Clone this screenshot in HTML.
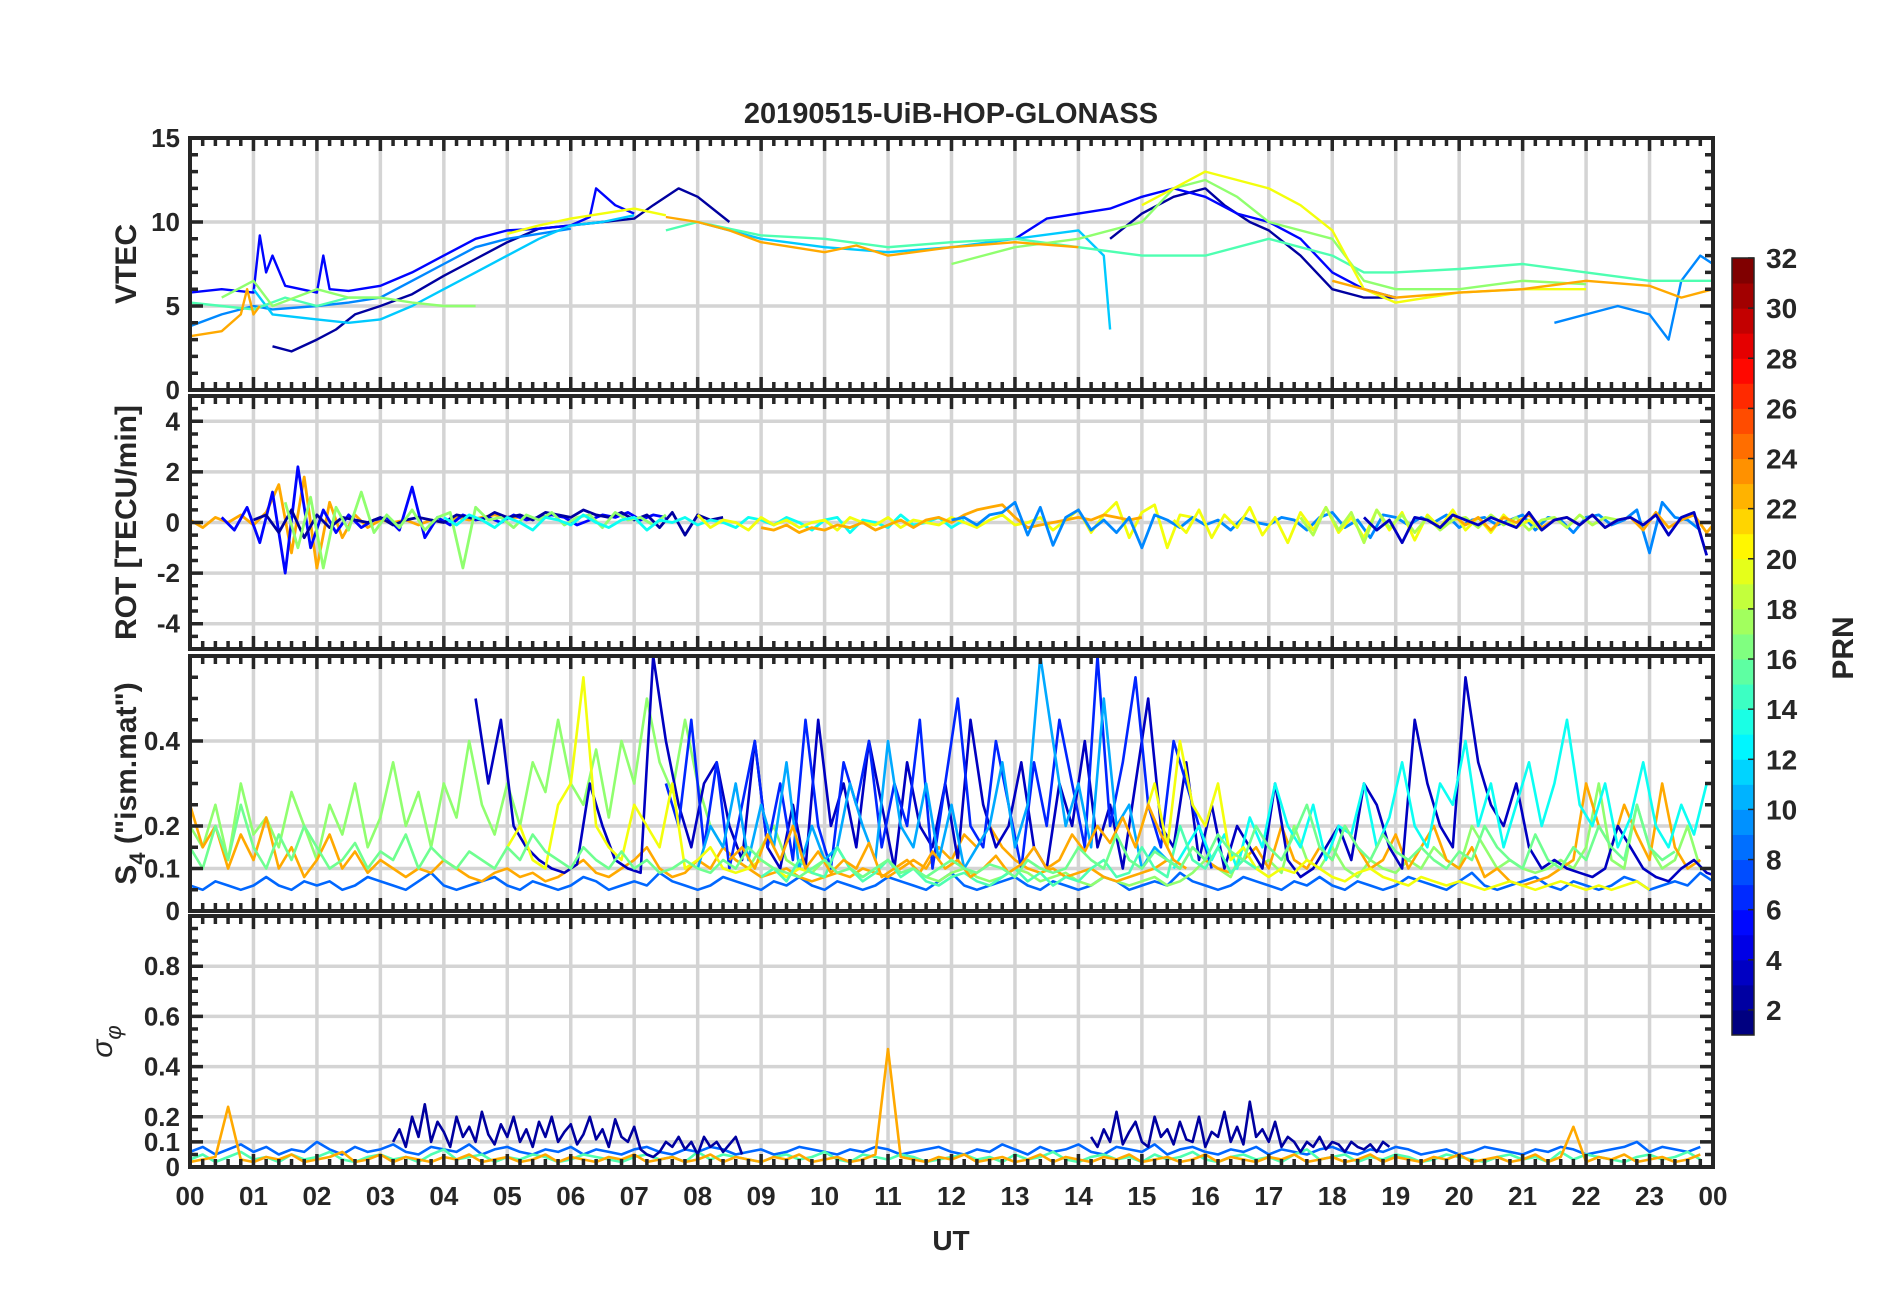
<!DOCTYPE html>
<html><head><meta charset="utf-8">
<style>
html,body{margin:0;padding:0;background:#fff;}
svg{display:block;font-family:"Liberation Sans",sans-serif;}
text{fill:#262626;font-weight:bold;}
</style></head>
<body>
<svg id="chart" width="1902" height="1292" viewBox="0 0 1902 1292">
<text x="951" y="123" font-size="29" text-anchor="middle">20190515-UiB-HOP-GLONASS</text>
<text x="951" y="1250" font-size="28" text-anchor="middle">UT</text>
<g id="panels"></g>
<g id="cbar"></g>
</svg>
<script>
// ---------------- data ----------------
const hourLabels = ["00","01","02","03","04","05","06","07","08","09","10","11","12","13","14","15","16","17","18","19","20","21","22","23","00"];
const vtecTicks = [0,5,10,15];
const rotTicks = [-4,-2,0,2,4];
const s4Ticks = [0,0.1,0.2,0.4];
const sigTicks = [0,0.1,0.2,0.4,0.6,0.8];
const cbarTicks = [2,4,6,8,10,12,14,16,18,20,22,24,26,28,30,32];

const vtecPrn = [2,2,5,5,9,9,11,11,15,15,17,17,20,20,23,23,23];
const vtecPts = [
 [[1.3,2.6],[1.6,2.3],[2,3],[2.3,3.6],[2.6,4.5],[3,5],[3.5,5.7],[4,6.8],[4.5,7.8],[5,8.8],[5.5,9.6],[6,9.8],[6.5,10],[7,10.2],[7.3,11],[7.7,12],[8,11.5],[8.5,10]],
 [[14.5,9],[15,10.5],[15.5,11.5],[16,12],[16.3,11],[16.7,10],[17,9.5],[17.5,8],[18,6],[18.5,5.5],[19,5.5]],
 [[0,5.8],[0.5,6],[1,5.8],[1.1,9.2],[1.2,7],[1.3,8],[1.5,6.2],[2,5.8],[2.1,8],[2.2,6],[2.5,5.9],[3,6.2],[3.5,7],[4,8],[4.5,9],[5,9.5],[5.5,9.6],[6,9.8],[6.3,10.3],[6.4,12],[6.7,11],[7,10.5]],
 [[13,9],[13.5,10.2],[14,10.5],[14.5,10.8],[15,11.5],[15.5,12],[16,11.5],[16.5,10.5],[17,10],[17.5,9],[18,7],[18.5,6],[19,5.5]],
 [[0,3.8],[0.5,4.5],[1,5],[1.3,4.8],[2,5],[2.5,5.2],[3,5.5],[3.5,6.5],[4,7.5],[4.5,8.5],[5,9],[5.5,9.3],[6,9.6]],
 [[21.5,4],[22,4.5],[22.5,5],[23,4.5],[23.3,3],[23.5,6.5],[23.8,8],[24,7.5]],
 [[1,6],[1.3,4.5],[2,4.2],[2.5,4],[3,4.2],[3.5,5],[4,6],[4.5,7],[5,8],[5.5,9],[6,9.8],[6.5,10],[7,10.4]],
 [[8,10],[9,9],[10,8.5],[11,8.2],[12,8.5],[13,9],[14,9.5],[14.4,8],[14.5,3.6]],
 [[0,5.2],[0.5,5],[1,4.8],[1.5,5.5],[2,5],[2.5,5.5],[3,5.5]],
 [[7.5,9.5],[8,10],[9,9.2],[10,9],[11,8.5],[12,8.8],[13,9],[14,8.5],[15,8],[16,8],[17,9],[18,8],[18.5,7],[19,7],[20,7.2],[21,7.5],[22,7],[23,6.5],[24,6.5]],
 [[0.5,5.5],[1,6.5],[1.3,5],[2,6],[2.5,5.5],[3,5.5],[3.5,5.2],[4,5],[4.5,5]],
 [[12,7.5],[12.5,8],[13,8.5],[14,9],[15,10],[15.5,12],[16,12.5],[16.5,11.5],[17,10],[18,9],[18.5,6.5],[19,6],[20,6],[21,6.5],[22,6.3]],
 [[5,9.3],[5.5,9.8],[6,10.2],[6.5,10.5],[7,10.8],[7.5,10.4]],
 [[15,11],[15.5,12],[16,13],[16.5,12.5],[17,12],[17.5,11],[18,9.5],[18.5,6],[19,5.2],[20,5.8],[21,6],[22,6]],
 [[0,3.2],[0.5,3.5],[0.8,4.5],[0.9,6],[1,4.5],[1.1,5]],
 [[7.5,10.3],[8,10],[8.5,9.5],[9,8.8],[10,8.2],[10.5,8.6],[11,8],[12,8.5],[13,8.8],[14,8.5]],
 [[18,6.5],[19,5.5],[20,5.8],[21,6],[22,6.5],[23,6.2],[23.5,5.5],[24,6]]
];

const rotPrn = [23,5,2,17,13,20,23,9];
const rotStart = [0,0.5,1,1.5,4,8,9,12];
const rotVals = [
 [0.1,-0.2,0.2,0,0.3,-0.1,0.4,1.5,-1.2,1.8,-1.8,0.8,-0.6,0.3,-0.2,0.1,0,0.1,-0.1,0.1,0,0.2,0.1,0.2,0.3,0.2,0.2],
 [0.2,-0.3,0.6,-0.8,1.2,-2,2.2,-1,0.5,-0.4,0.3,-0.2,0.1,0.2,-0.3,1.4,-0.6,0.2,-0.1,0.3,0.1,0.2,0,0.3,0.1,0.2,0.3,0.2,-0.1,0.1,0.3,0.2,0.4,0.1,0.3,0.2],
 [0.1,0.3,-0.4,0.5,-0.6,0.3,-0.2,0.2,0.1,0,0.2,-0.1,0.1,0.2,0.1,0,0.3,0.2,0.1,0.4,0.2,0.3,0.1,0.4,0.3,0.2,0.5,0.3,0.2,0.4,0.1,0.3,-0.2,0.4,-0.5,0.3,0.1,0.2],
 [0.8,-1,1,-1.8,0.6,-0.3,1.2,-0.4,0.3,-0.2,0.5,-0.3,0.2,0.4,-1.8,0.6,0.1,0.2,-0.2,0.3,0.1,0.4,-0.1,0.2,0.3,-0.2,0.4,0.1,0.2,-0.1,0.3],
 [0.2,-0.1,0.3,0.1,-0.2,0.2,0,-0.3,0.2,0.1,-0.1,0.3,0,-0.2,0.1,0.2,-0.3,0.1,0,0.2,-0.1,0.1,0,-0.2,0.2,0.1,-0.1,0.2,0,-0.3,0.1,0.2,-0.4,0.1,0,-0.2,0.3,-0.1,0,0.2,-0.2,0.1],
 [0.3,-0.2,0.1,0,-0.3,0.2,-0.1,0.1,-0.2,0,0.1,-0.3,0.2,0,-0.1,0.2,-0.2,0.1,0,-0.1,0.2,0,-0.2,0.1,0.3,-0.1,0,0.2,-0.3,0.1,0.5,-0.4,0.3,0.8,-0.6,0.4,0.7,-1,0.3,0.2],
 [-0.2,-0.3,-0.1,-0.4,-0.2,-0.3,-0.1,-0.2,0,-0.3,-0.1,0.1,-0.2,0.1,0.2,0,0.3,0.5,0.6,0.7,0.2,-0.2,-0.1,0,0.1,0.2,0.1,0.3,0.2,0.1,0.2],
 [0.1,0.2,-0.1,0.3,0.4,0.8,-0.5,0.6,-0.9,0.2,0.5,-0.3,0.1,-0.4,0.2,-1,0.3,0.1,-0.2,0.2,-0.1,0.1,-0.3,0.2,0,-0.1,0.2,0.1,-0.3,0.2,0.4,-0.2,0.1,-0.6,0.3,0.2,-0.1,0.2,0,0.3,-0.2,0.1,0.2,-0.1,0.1,0.3,-0.3,0.2,0.1,-0.4,0.2,0.3,-0.1,0.1,0.5,-1.2,0.8,0.2,0.1,-0.3]
];
const rotPrn2 = [20,18,23,3];
const rotStart2 = [15.5,17.5,19.5,18.5];
const rotVals2 = [
 [0.1,-0.4,0.5,-0.6,0.3,-0.2,0.6,-0.5,0.2,-0.8,0.4,-0.3,0.6,-0.4,0.2,-0.6,0.5,-0.3,0.4,-0.7,0.3,-0.2,0.5,-0.3,0.2,-0.4,0.3,-0.2,0.1,-0.3],
 [0.2,-0.5,0.6,-0.3,0.4,-0.8,0.5,-0.2,0.3,-0.4,0.2,-0.3,0.1,0.2,-0.2,0.3,-0.1,0.2,-0.3,0.1,0.2,-0.2,0.3,-0.1,0.2,0.1],
 [0.1,-0.2,0.3,-0.1,0.2,-0.3,0.2,0,0.3,-0.2,0.1,0.2,-0.1,0.3,-0.2,0.1,0.2,-0.3,0.4,-0.2,0.1,0.3,-0.4,0.2,0.5,-0.3,0.7,-0.2],
 [0.2,-0.3,0.1,-0.8,0.2,0.1,-0.2,0.3,0.1,-0.1,0.2,0,-0.2,0.4,-0.3,0.1,0.2,-0.1,0.3,-0.2,0.1,0.2,-0.1,0.3,-0.5,0.2,0.4,-1.3]
];

const s4Prn = [8,17,23,3,6,10,13,20,20,15,23,16];
const s4Start = [0,0,0,4.5,7.5,8,15.5,5,15,9,8.5,0];
const s4Vals = [
 [.06,.05,.07,.06,.05,.06,.08,.06,.05,.07,.06,.07,.05,.06,.08,.07,.06,.05,.07,.09,.06,.05,.06,.07,.08,.06,.05,.07,.06,.05,.06,.08,.07,.05,.06,.07,.06,.09,.07,.06,.05,.06,.08,.07,.06,.05,.07,.06,.08,.06,.05,.07,.06,.05,.06,.08,.07,.06,.05,.07,.09,.06,.05,.06,.07,.08,.06,.05,.07,.06,.05,.06,.08,.07,.05,.06,.07,.06,.09,.07,.06,.05,.06,.08,.07,.06,.05,.07,.06,.08,.06,.05,.07,.06,.05,.06,.08,.07,.06,.05,.07,.09,.06,.05,.06,.07,.08,.06,.05,.07,.06,.05,.06,.08,.07,.05,.06,.07,.06,.09,.07],
 [.2,.15,.25,.12,.3,.18,.22,.15,.28,.2,.12,.25,.18,.3,.15,.22,.35,.2,.28,.15,.3,.22,.4,.25,.18,.3,.2,.35,.28,.45,.3,.25,.38,.22,.4,.3,.5,.35,.28,.45,.3,.2,.15,.12,.1,.15,.2,.12,.1,.09,.12,.15,.1,.08,.1,.12,.09,.1,.08,.07,.09,.1,.08,.07,.08,.1,.09,.07,.08,.09,.07,.06,.08,.07,.06,.07,.08,.06,.07,.09,.12,.1,.08,.15,.1,.12,.09,.2,.12,.1,.15,.1,.08,.12,.1,.09,.12,.1,.15,.12,.1,.2,.15,.1,.12,.1,.09,.1,.12,.1,.15,.3,.12,.1,.25,.15,.1,.12,.2,.1],
 [.25,.15,.2,.1,.18,.12,.22,.1,.15,.08,.12,.18,.1,.14,.09,.12,.1,.08,.1,.09,.12,.1,.08,.07,.09,.1,.08,.09,.07,.08,.1,.12,.09,.08,.1,.12,.15,.1,.08,.09,.12,.1,.15,.12,.1,.08,.09,.1,.08,.07,.08,.09,.08,.1,.09,.08,.1,.12,.1,.15,.12,.18,.15,.2,.15,.12,.1,.09,.1,.08,.09,.1,.08,.07,.08,.09,.1,.12,.1,.15,.12,.1,.09,.12,.15,.1,.2,.12,.1,.15,.12,.2,.15,.1,.12,.18,.1,.15,.2,.12,.1,.15,.08,.1,.07,.06,.07,.08,.1,.12,.3,.2,.15,.25,.18,.12,.3,.15,.1,.12],
 [.5,.3,.45,.2,.15,.12,.1,.09,.11,.3,.2,.12,.1,.09,.6,.4,.25,.15,.3,.35,.2,.12,.4,.15,.1,.25,.1,.45,.2,.3,.15,.4,.25,.1,.35,.2,.15,.3,.12,.45,.25,.15,.2,.35,.15,.1,.3,.2,.4,.15,.25,.1,.3,.5,.2,.15,.35,.12,.25,.1,.2,.15,.1,.3,.12,.08,.1,.15,.2,.12,.3,.25,.15,.1,.45,.3,.2,.15,.55,.35,.25,.2,.3,.15,.1,.12,.1,.09,.08,.1,.2,.15,.1,.08,.07,.1,.12,.09,.08],
 [.3,.2,.45,.15,.35,.1,.25,.4,.15,.3,.12,.45,.2,.1,.35,.25,.4,.15,.3,.2,.45,.1,.3,.5,.2,.15,.4,.25,.1,.35,.2,.45,.3,.15,.6,.2,.35,.55,.25,.15,.4,.3,.2,.1],
 [.1,.2,.15,.3,.12,.25,.15,.35,.1,.2,.12,.15,.3,.2,.12,.4,.2,.15,.3,.12,.25,.1,.15,.2,.35,.15,.25,.6,.4,.2,.3,.15,.5,.2,.25,.1,.15,.12,.1],
 [.1,.15,.2,.12,.18,.1,.22,.15,.3,.2,.15,.25,.12,.2,.18,.3,.15,.22,.35,.2,.15,.3,.25,.4,.2,.3,.15,.25,.35,.2,.3,.45,.25,.2,.3,.15,.22,.35,.2,.15,.25,.18,.3],
 [.15,.2,.12,.1,.25,.3,.55,.2,.15,.12,.25,.2,.15,.3,.1,.12,.15,.1,.09,.1,.12,.1,.08,.1,.09,.08],
 [.2,.3,.15,.4,.25,.2,.3,.12,.15,.1,.08,.1,.09,.12,.1,.08,.07,.09,.1,.08,.07,.06,.08,.07,.06,.07,.06,.05,.06,.07,.06,.05,.06,.07,.06,.05,.06,.05,.06,.07,.05],
 [.08,.1,.07,.12,.09,.08,.15,.1,.07,.09,.12,.08,.1,.07,.06,.08,.09,.07,.06,.08,.1,.07,.09,.06,.08,.07,.1,.12,.08,.09,.15,.1,.08,.2,.12,.1,.15,.09,.12,.1],
 [.12,.15,.1,.18,.12,.2,.1,.14,.09,.12,.1,.16,.08,.1,.12,.09,.14,.1,.12,.08,.1,.13,.09,.11,.15,.1,.12,.18,.14,.2,.16,.22,.15,.25,.18,.12,.1],
 [.15,.1,.2,.12,.25,.15,.1,.18,.12,.2,.15,.1,.12,.16,.1,.14,.12,.18,.1,.15,.12,.1,.14,.12,.1,.15,.12,.18,.14,.12,.1,.15,.12,.1,.14,.1,.12,.09,.1,.12,.1,.09,.12,.1,.15,.12,.1,.09,.08,.1,.12,.09,.1,.08,.1,.12,.09,.1,.08,.1,.12,.1,.09,.11,.1,.08,.12,.1,.09,.1,.15,.12,.1,.18,.12,.1,.14,.12,.1,.15,.12,.18,.14,.12,.2,.15,.12,.18,.25,.15,.12,.2,.15,.12,.18,.14,.12,.15,.12,.1,.14,.12,.2,.15,.12,.1,.18,.12,.1,.15,.12,.2,.15,.12,.25,.15,.12,.14]
];

const sigPrn = [8,15,2,2,23];
const sigStart = [0,0,3.2,14.2,0];
const sigStep = [0.2,0.2,0.1,0.1,0.2];
const sigVals = [
 [.06,.08,.05,.07,.09,.06,.08,.05,.07,.06,.1,.07,.05,.08,.06,.07,.09,.06,.05,.08,.07,.06,.09,.05,.07,.08,.06,.05,.07,.06,.08,.05,.07,.06,.05,.07,.08,.06,.05,.07,.06,.08,.07,.05,.06,.07,.05,.06,.08,.07,.06,.05,.07,.06,.08,.07,.05,.06,.07,.08,.06,.05,.07,.06,.09,.07,.05,.08,.06,.07,.09,.06,.05,.08,.07,.06,.09,.05,.07,.08,.06,.05,.07,.06,.08,.05,.07,.06,.05,.07,.08,.06,.05,.07,.06,.08,.07,.05,.06,.07,.05,.06,.08,.07,.06,.05,.07,.06,.08,.07,.05,.06,.07,.08,.1,.06,.08,.07,.06,.08],
 [.03,.05,.02,.04,.06,.03,.04,.02,.05,.03,.04,.06,.03,.02,.04,.05,.03,.04,.02,.05,.07,.03,.04,.05,.02,.04,.03,.05,.04,.02,.03,.05,.04,.03,.02,.04,.05,.03,.04,.02,.06,.03,.05,.04,.03,.02,.04,.05,.03,.04,.06,.03,.02,.05,.04,.03,.05,.04,.02,.03,.04,.05,.03,.04,.02,.05,.03,.04,.06,.03,.02,.04,.05,.03,.04,.02,.05,.03,.04,.06,.03,.02,.04,.05,.03,.04,.02,.05,.07,.03,.04,.05,.02,.04,.03,.05,.04,.02,.03,.05,.04,.03,.02,.04,.05,.03,.04,.02,.06,.03,.05,.04,.03,.02,.04,.05,.03,.04,.06,.03],
 [.1,.15,.08,.2,.12,.25,.1,.18,.14,.08,.2,.12,.16,.1,.22,.13,.09,.17,.12,.2,.1,.15,.08,.18,.12,.2,.1,.14,.17,.09,.13,.2,.11,.15,.08,.19,.12,.1,.16,.07,.05,.04,.06,.1,.08,.12,.07,.1,.05,.12,.08,.1,.06,.09,.12,.05],
 [.12,.08,.15,.1,.22,.09,.14,.18,.1,.08,.2,.12,.15,.09,.18,.11,.1,.2,.08,.14,.12,.22,.1,.16,.09,.26,.12,.15,.1,.18,.08,.12,.1,.06,.1,.08,.12,.07,.1,.09,.06,.1,.08,.07,.09,.06,.1,.08],
 [.02,.03,.04,.24,.03,.02,.04,.03,.05,.02,.03,.04,.06,.02,.03,.05,.02,.04,.03,.02,.04,.03,.05,.02,.03,.04,.02,.03,.05,.02,.04,.03,.02,.04,.03,.05,.02,.03,.04,.02,.03,.05,.02,.04,.03,.02,.04,.03,.05,.02,.03,.04,.02,.03,.05,.47,.04,.03,.02,.04,.03,.05,.02,.03,.04,.02,.03,.05,.02,.04,.03,.02,.04,.03,.05,.02,.03,.04,.02,.03,.05,.02,.04,.03,.02,.04,.03,.05,.02,.03,.04,.02,.03,.05,.02,.04,.03,.02,.04,.03,.05,.02,.03,.04,.02,.03,.05,.02,.04,.16,.02,.04,.03,.05,.02,.03,.04,.02,.03,.05]
];

// ---------------- drawing ----------------
const NS = "http://www.w3.org/2000/svg";
const X0 = 190, X1 = 1713;
const xs = h => X0 + (X1 - X0) * h / 24;
function jet(v){
  const r = Math.min(Math.max(Math.min(4*v-1.5, -4*v+4.5),0),1);
  const g = Math.min(Math.max(Math.min(4*v-0.5, -4*v+3.5),0),1);
  const b = Math.min(Math.max(Math.min(4*v+0.5, -4*v+2.5),0),1);
  return `rgb(${Math.round(r*255)},${Math.round(g*255)},${Math.round(b*255)})`;
}
const prnColor = p => jet((p-1)/31);
function mk(tag, attrs, parent){
  const e = document.createElementNS(NS, tag);
  for (const k in attrs) e.setAttribute(k, attrs[k]);
  parent.appendChild(e); return e;
}
const root = document.getElementById('panels');

const panels = [
 {name:'vtec', top:138, bot:390, min:0, max:15, ticks:vtecTicks, minor:1, label:'VTEC'},
 {name:'rot', top:396, bot:649, min:-5, max:5, ticks:rotTicks, minor:0.5, label:'ROT [TECU/min]'},
 {name:'s4', top:656, bot:911, min:0, max:0.6, ticks:s4Ticks, minor:0.05, label:'s4'},
 {name:'sigma', top:916, bot:1167, min:0, max:1, ticks:sigTicks, minor:0.05, label:'sigma'}
];

panels.forEach(P => {
  const g = mk('g', {}, root);
  
  
  const ys = v => P.bot - (P.bot - P.top) * (v - P.min) / (P.max - P.min);
  P.ys = ys;
  for (let h = 1; h < 24; h++) {
    const l = mk('line', {x1:xs(h), x2:xs(h), y1:P.top, y2:P.bot, stroke:'#d4d4d4', 'stroke-width':3.5}, g);
    
    
  }
  P.ticks.forEach(t => {
    if (t === P.min) return;
    const l = mk('line', {x1:X0, x2:X1, y1:ys(t), y2:ys(t), stroke:'#d4d4d4', 'stroke-width':3.5}, g);
    
    
  });
  const clipId = 'clip-' + P.name;
  const cp = mk('clipPath', {id:clipId}, g);
  mk('rect', {x:X0, y:P.top, width:X1-X0, height:P.bot-P.top}, cp);
  P.dg = mk('g', {'clip-path':`url(#${clipId})`}, g);
  P.g = g;
});

function poly(P, pts, color, w, name){
  const d = pts.map((p,i)=>(i?'L':'M')+xs(p[0]).toFixed(1)+','+P.ys(p[1]).toFixed(1)).join('');
  const path = mk('path', {d:d, fill:'none', stroke:color, 'stroke-width':w, 'stroke-linejoin':'round'}, P.dg);
  
  
}
vtecPts.forEach((pts,i) => poly(panels[0], pts, prnColor(vtecPrn[i]), 2.4, 'vtec-line-prn' + vtecPrn[i]));
function stepSeries(start, step, vals){ return vals.map((v,i)=>[start + i*step, v]); }
rotVals.forEach((v,i) => poly(panels[1], stepSeries(rotStart[i], 0.2, v), prnColor(rotPrn[i]), 2.8, 'rot-line-prn' + rotPrn[i]));
rotVals2.forEach((v,i) => poly(panels[1], stepSeries(rotStart2[i], 0.2, v), prnColor(rotPrn2[i]), 2.8, 'rot-line-prn' + rotPrn2[i]));
s4Vals.forEach((v,i) => poly(panels[2], stepSeries(s4Start[i], 0.2, v), prnColor(s4Prn[i]), 2.6, 's4-line-prn' + s4Prn[i]));
sigVals.forEach((v,i) => poly(panels[3], stepSeries(sigStart[i], sigStep[i], v), prnColor(sigPrn[i]), 2.6, 'sigma-line-prn' + sigPrn[i]));

panels.forEach((P,pi) => {
  const g = P.g, ys = P.ys;
  let d = '';
  for (let k = 0; k <= 120; k++) {
    const x = xs(k/5), L = (k%5===0) ? 13 : 8;
    d += `M${x},${P.bot}v${-L}M${x},${P.top}v${L}`;
  }
  for (let v = P.min; v <= P.max + 1e-9; v += P.minor) {
    const major = P.ticks.some(t => Math.abs(t - v) < 1e-6);
    const L = major ? 13 : 8, y = ys(v);
    d += `M${X0},${y}h${L}M${X1},${y}h${-L}`;
  }
  const tk = mk('path', {d:d, stroke:'#262626', 'stroke-width':3.5, fill:'none'}, g);
  
  
  const fr = mk('rect', {x:X0, y:P.top, width:X1-X0, height:P.bot-P.top, fill:'none', stroke:'#262626', 'stroke-width':4}, g);
  
  
  P.ticks.forEach(t => {
    const tx = mk('text', {x:X0-10, y:ys(t)+9, 'font-size':26, 'text-anchor':'end'}, g);
    tx.textContent = String(t);
    
    
  });
  const cy = (P.top + P.bot)/2;
  const lab = mk('text', {x:0, y:0, 'font-size':30, 'text-anchor':'middle', transform:`translate(${pi===3?112:136},${cy}) rotate(-90)`}, g);
  if (P.label === 's4') {
    lab.innerHTML = 'S<tspan font-size="22" dy="9">4</tspan><tspan dy="-9"> ("ism.mat")</tspan>';
  } else if (P.label === 'sigma') {
    lab.innerHTML = '<tspan font-style="italic" style="font-weight:normal">σ</tspan><tspan font-size="22" dy="9" font-style="italic" style="font-weight:normal">φ</tspan>';
  } else lab.textContent = P.label;
  
  
});
hourLabels.forEach((s,i) => {
  const t = mk('text', {x:xs(i), y:1205, 'font-size':26, 'text-anchor':'middle'}, root);
  t.textContent = s;
  
  
});

const cb = document.getElementById('cbar');


const CT = 258, CB = 1035, CX = 1732, CW = 22;
const cy = p => CB - (CB - CT) * (p - 1) / 31;
for (let k = 0; k < 31; k++) {
  const r = mk('rect', {x:CX, y:cy(k+2), width:CW, height:cy(k+1)-cy(k+2)+0.5, fill:jet(k/30)}, cb);
  
  
}
mk('rect', {x:CX, y:CT, width:CW, height:CB-CT, fill:'none', stroke:'#262626', 'stroke-width':1.5}, cb);
cbarTicks.forEach(p => {
  mk('line', {x1:CX+CW-6, x2:CX+CW, y1:cy(p), y2:cy(p), stroke:'#262626', 'stroke-width':1.5}, cb);
  const t = mk('text', {x:CX+CW+12, y:cy(p)+10, 'font-size':28}, cb);
  t.textContent = String(p);
  
  
});
const pl = mk('text', {x:0, y:0, 'font-size':30, 'text-anchor':'middle', transform:'translate(1853,648) rotate(-90)'}, cb);
pl.textContent = 'PRN';


</script>
</body></html>
